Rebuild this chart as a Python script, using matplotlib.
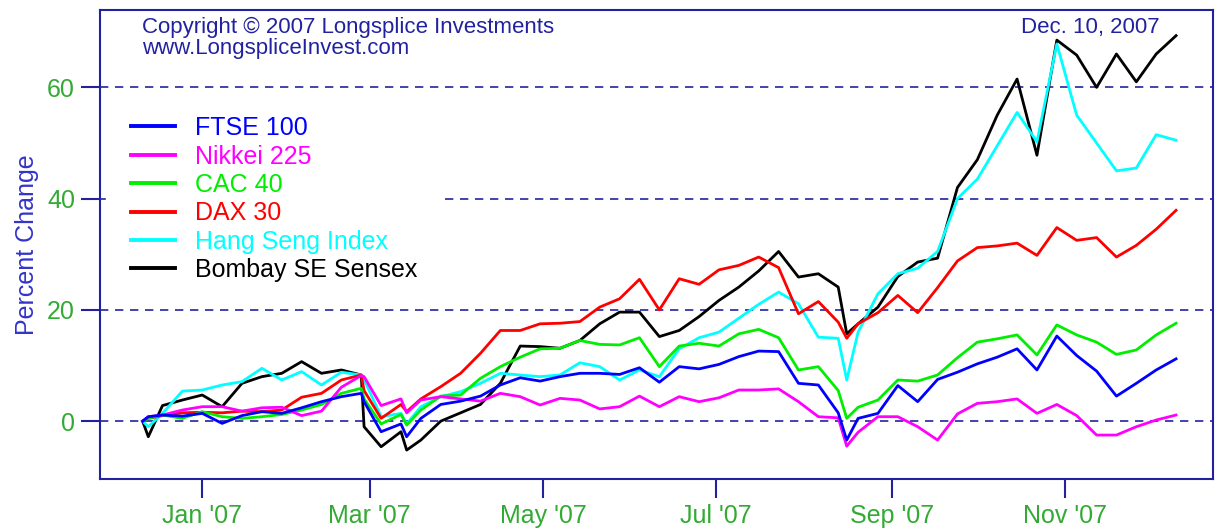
import pandas as pd
import matplotlib
matplotlib.use('Agg')
import matplotlib.pyplot as plt
import matplotlib.dates as mdates

plt.rcParams['font.family'] = ['Liberation Sans', 'DejaVu Sans']

# fechas de muestreo (lunes) + algunos dias clave (caidas)
semanas = pd.date_range('2006-12-11', '2007-12-10', freq='7D')
extras = pd.to_datetime(['2006-12-13', '2007-02-27', '2007-03-14', '2007-08-16'])
fechas = semanas.append(extras).sort_values()

# variacion porcentual
ftse = [0, 0.8, 1.1, 0.9, 1.4, -0.4, 1.0, 1.7, 1.4, 2.4, 3.5, 4.4, 5.0, 3.5, -1.9, -0.5, -2.8,
        0.5, 3.0, 3.6, 4.5, 6.5, 7.8, 7.2, 8.0, 8.6, 8.6, 8.4, 9.6, 7.0, 9.8, 9.4, 10.2, 11.6, 12.6,
        12.5, 6.8, 6.5, 1.5, -3.4, 0.5, 1.4, 6.4, 3.5, 7.5, 8.8, 10.3, 11.5, 13.0, 9.2, 15.3, 11.8,
        9.0, 4.5, 6.8, 9.2, 11.2]
nikkei = [0, 0.8, 1.1, 2.0, 2.6, 2.6, 1.8, 2.4, 2.5, 1.0, 1.8, 6.1, 8.2, 8.0, 2.8, 4.0, 1.5,
          3.8, 4.4, 4.0, 3.6, 5.0, 4.4, 2.9, 4.1, 3.8, 2.2, 2.6, 4.5, 2.6, 4.4, 3.5, 4.2, 5.6, 5.6,
          5.8, 3.5, 0.8, 0.6, -4.5, -2.0, 0.8, 0.8, -1.0, -3.4, 1.3, 3.2, 3.5, 4.0, 1.4, 3.0, 1.0,
          -2.5, -2.5, -1.0, 0.2, 1.1]
cac = [0, 0.5, 1.1, 0.5, 1.7, 0.8, 0.5, 0.8, 1.2, 2.0, 3.0, 5.0, 5.9, 4.0, -0.5, 1.2, -0.7,
       2.0, 4.5, 4.7, 7.7, 9.8, 11.5, 13.0, 13.1, 14.5, 13.8, 13.7, 15.0, 9.8, 13.5, 14.0, 13.5,
       15.7, 16.5, 15.0, 9.2, 9.8, 5.5, 0.5, 2.5, 3.8, 7.4, 7.2, 8.3, 11.4, 14.2, 14.8, 15.5, 11.9,
       17.3, 15.5, 14.2, 12.0, 12.8, 15.5, 17.6]
dax = [0, 0.5, 1.0, 1.5, 1.6, 1.5, 1.8, 1.7, 2.0, 4.3, 5.0, 7.4, 8.3, 5.5, 0.5, 3.0, 1.7,
       4.0, 6.2, 8.6, 12.2, 16.3, 16.3, 17.5, 17.6, 17.9, 20.5, 22.0, 25.5, 20.0, 25.6, 24.6, 27.2,
       28.0, 29.5, 27.6, 19.3, 21.5, 17.8, 14.9, 17.5, 19.5, 22.6, 19.5, 24.0, 28.8, 31.2, 31.5,
       32.0, 29.8, 34.8, 32.5, 33.0, 29.5, 31.6, 34.5, 37.9]
hang_seng = [0, -1.0, 1.4, 5.4, 5.6, 6.5, 7.1, 9.5, 7.4, 8.9, 6.5, 8.8, 8.3, 7.5, 0.8, 1.4, -0.5,
             2.6, 4.4, 5.3, 6.8, 8.6, 8.3, 8.0, 8.3, 10.5, 9.8, 7.4, 9.2, 8.0, 13.0, 15.0, 16.0,
             18.5, 21.0, 23.2, 21.1, 15.1, 14.9, 7.4, 16.0, 22.9, 26.5, 27.5, 30.5, 40.0, 43.5,
             49.5, 55.5, 50.2, 67.8, 55.0, 50.0, 45.0, 45.5, 51.5, 50.5]
sensex = [0, -2.8, 2.8, 3.8, 4.7, 2.6, 6.8, 8.0, 8.6, 10.7, 8.6, 9.2, 8.3, -1.0, -4.6, -1.9, -5.2,
          -3.4, 0.0, 1.5, 3.0, 6.8, 13.5, 13.4, 13.1, 14.5, 17.5, 19.6, 19.6, 15.2, 16.3, 18.8,
          21.7, 24.1, 27.0, 30.5, 25.9, 26.5, 24.1, 15.7, 17.5, 20.5, 26.0, 28.6, 29.3, 42.0, 47.0,
          55.0, 61.5, 47.8, 68.5, 65.8, 60.0, 66.0, 61.0, 66.0, 69.3]

nombres = ['FTSE 100', 'Nikkei 225', 'CAC 40', 'DAX 30', 'Hang Seng Index', 'Bombay SE Sensex']
series = [ftse, nikkei, cac, dax, hang_seng, sensex]
colores = ['#0000ff', '#ff00ff', '#00ee00', '#ff0000', '#00ffff', '#000000']

azul = '#2222a0'
verde = '#33aa33'

fig = plt.figure(figsize=(12.17, 5.29), dpi=100)
ax = fig.add_axes([0.0822, 0.0945, 0.9145, 0.8865])

lineas = {}
# se dibujan al reves para que FTSE quede encima
for nombre, valores, color in reversed(list(zip(nombres, series, colores))):
    lineas[nombre], = ax.plot(fechas, valores, color=color, linewidth=2.0, label=nombre)

for y in [0, 20, 40, 60]:
    ax.axhline(y, color=azul, linestyle=(0, (5, 4)), linewidth=1.2, zorder=0)

ax.set_xlim(pd.Timestamp('2006-11-26'), pd.Timestamp('2007-12-23'))
ax.set_ylim(-10.4, 73.9)
ax.set_yticks([0, 20, 40, 60])
ax.xaxis.set_major_locator(mdates.MonthLocator(bymonth=[1, 3, 5, 7, 9, 11]))
ax.xaxis.set_major_formatter(mdates.DateFormatter("%b '%y"))

for s in ax.spines.values():
    s.set_color(azul)
    s.set_linewidth(1.5)
ax.tick_params(colors=azul, labelcolor=verde, labelsize=18, length=14, width=1.5, pad=4)
ax.set_ylabel('Percent Change', color='#3333cc', fontsize=18, labelpad=6)

leg = ax.legend([lineas[n] for n in nombres], nombres, loc='upper left',
                bbox_to_anchor=(0.0054, 0.827), frameon=True, fontsize=18, handlelength=1.76,
                handletextpad=0.8, labelspacing=0.175, borderpad=1.0, borderaxespad=0.0)
leg.get_frame().set_facecolor('white')
leg.get_frame().set_edgecolor('white')
leg.get_frame().set_alpha(1)
for txt, color in zip(leg.get_texts(), colores):
    txt.set_color(color)
for h in leg.legend_handles:
    h.set_linewidth(2.8)

ax.text(0.038, 0.985, 'Copyright \u00a9 2007 Longsplice Investments\nwww.LongspliceInvest.com',
        transform=ax.transAxes, ha='left', va='top', color=azul, fontsize=16, linespacing=1.0)
ax.text(0.952, 0.985, 'Dec. 10, 2007', transform=ax.transAxes, ha='right', va='top',
        color=azul, fontsize=16)

fig.savefig('out.png', dpi=100)
